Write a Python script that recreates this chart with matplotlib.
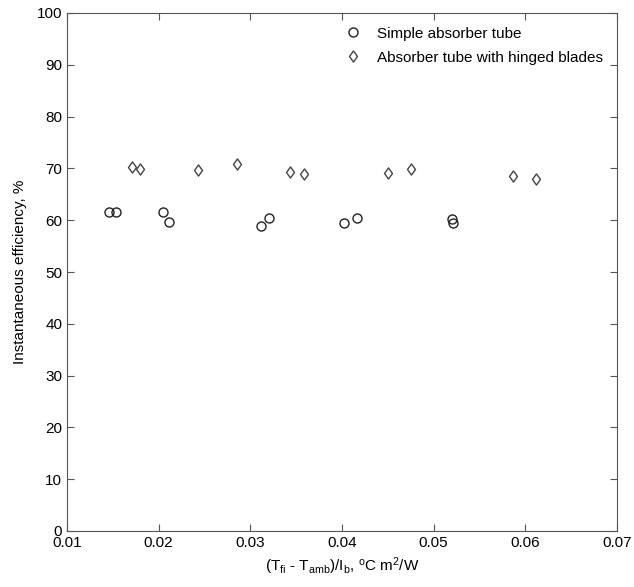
import numpy as np
import matplotlib
matplotlib.use('Agg')
import matplotlib.pyplot as plt
from matplotlib.path import Path

plt.rcParams['font.family'] = ['Liberation Sans', 'DejaVu Sans']
plt.rcParams['mathtext.fontset'] = 'custom'
plt.rcParams['mathtext.rm'] = 'Liberation Sans'
plt.rcParams['mathtext.it'] = 'Liberation Sans:italic'

# simple absorber tube
x_simple = [0.0146, 0.0153, 0.0205, 0.0211, 0.0312, 0.0320, 0.0402, 0.0416, 0.0520, 0.0521]
y_simple = [61.6, 61.5, 61.5, 59.7, 58.8, 60.5, 59.4, 60.5, 60.2, 59.4]

# absorber tube with hinged blades
x_hinged = [0.0171, 0.0180, 0.0243, 0.0286, 0.0343, 0.0359, 0.0450, 0.0475, 0.0586, 0.0612]
y_hinged = [70.3, 69.8, 69.6, 70.9, 69.4, 69.0, 69.1, 69.9, 68.5, 67.9]

xticks = [0.01, 0.02, 0.03, 0.04, 0.05, 0.06, 0.07]
yticks = np.arange(0, 101, 10)

# matlab-like diamond, a bit wider than 'd'
diamond = Path([(0, 1), (0.72, 0), (0, -1), (-0.72, 0), (0, 1)],
               [Path.MOVETO, Path.LINETO, Path.LINETO, Path.LINETO, Path.CLOSEPOLY])

fig = plt.figure(figsize=(6.34, 5.87), dpi=100)
ax = fig.add_axes([67 / 634, 1 - 531 / 587, 550 / 634, 518 / 587])

ax.plot(x_simple, y_simple, linestyle='none', marker='o', markersize=6.5,
        markerfacecolor='none', markeredgecolor='#222222', markeredgewidth=1.0,
        label='Simple absorber tube')
ax.plot(x_hinged, y_hinged, linestyle='none', marker=diamond, markersize=8,
        markerfacecolor='none', markeredgecolor='#444444', markeredgewidth=1.0,
        label='Absorber tube with hinged blades')

ax.set_xlim(0.01, 0.07)
ax.set_ylim(0, 100)
ax.set_xticks(xticks)
ax.set_xticklabels(['%g' % t for t in xticks])
ax.set_yticks(yticks)

for s in ax.spines.values():
    s.set_color('#555555')
ax.tick_params(direction='in', top=True, right=True, length=5, color='#555555',
               labelsize=11, labelcolor='black')

ax.set_xlabel(r'(T$_{\rm fi}$ - T$_{\rm amb}$)/I$_{\rm b}$, $^{\rm o}$C m$^{2}$/W', fontsize=11)
ax.set_ylabel('Instantaneous efficiency, %', fontsize=11, labelpad=7)

ax.legend(loc='upper right', frameon=False, fontsize=11, handletextpad=1.0,
          borderaxespad=0.5, labelspacing=0.65, handlelength=1.2)

fig.savefig('out.png', dpi=100)
